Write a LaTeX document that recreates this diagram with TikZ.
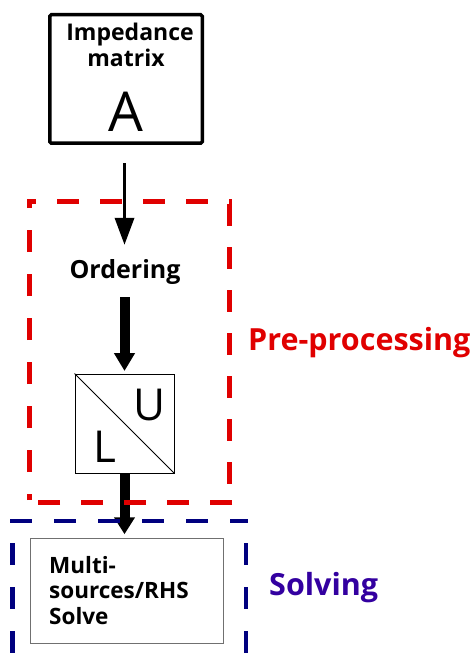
\documentclass[tikz,border=0pt]{standalone}
\usepackage{fontspec}
\setmainfont{Open Sans}
\usetikzlibrary{arrows.meta}
\definecolor{ppred}{HTML}{E00000}
\definecolor{navyd}{HTML}{00007F}
\definecolor{solvc}{HTML}{3300A0}
\definecolor{boxgray}{HTML}{707070}
\begin{document}
\begin{tikzpicture}[x=1pt,y=-1pt,
  lbl/.style={inner sep=0pt, font=\fontsize{23}{27}\selectfont\bfseries},
  ordlbl/.style={inner sep=0pt, font=\fontsize{25}{29}\selectfont\bfseries},
  sublbl/.style={inner sep=0pt, anchor=base west, font=\fontsize{22.5}{26}\selectfont\bfseries},
  big/.style={inner sep=0pt, font=\fontsize{55}{60}\selectfont},
  mid/.style={inner sep=0pt, font=\fontsize{44}{50}\selectfont},
  flow/.style={line width=3.5pt, -{Triangle[width=19pt,length=27pt]}},
  fatflow/.style={line width=10pt, -{Triangle[width=20pt,length=18pt]}},
  grp/.style={ppred, line width=5pt, dash pattern=on 22pt off 21pt},
  grpb/.style={navyd, line width=4.5pt, dash pattern=on 22pt off 22pt},
  side/.style={inner sep=0pt, anchor=base west, font=\fontsize{30.5}{34}\selectfont\bfseries}]
\useasboundingbox (0,0) rectangle (469,663);
% top box
\node[draw, line width=3.5pt, rounded corners=1.5pt, minimum width=152.5pt, minimum height=128.5pt, inner sep=0pt] (imp) at (126,79) {};
\node[lbl, anchor=base] (t1) at (130,41) {Impedance};
\node[lbl, anchor=base] (t2) at (126,67) {matrix};
\node[big, anchor=base] (ta) at (126,132) {A};
% ordering
\node[ordlbl, anchor=base] (ord) at (125,278) {Ordering};
% LU box
\node[draw, line width=1pt, minimum size=99pt, inner sep=0pt] (lu) at (124.5,423.5) {};
\draw[line width=0.8pt] (lu.north west) -- (lu.south east);
\node[mid] (tu) at (150,405) {U};
\node[mid] (tl) at (105,447) {L};
% solve box
\node[draw=boxgray, line width=1.5pt, minimum width=193pt, minimum height=105pt, inner sep=0pt] (slv) at (127,591) {};
\node[sublbl] (s1) at (49,573) {Multi-};
\node[sublbl] (s2) at (49,598) {sources/RHS};
\node[sublbl] (s3) at (49,624) {Solve};
% arrows
\draw[flow, shorten <=18.5pt, shorten >=14pt] (imp.south -| lu) -- (ord.north -| lu);
\draw[fatflow, shorten <=13pt, shorten >=2.5pt] (ord.south -| lu) -- (lu.north);
\draw[line width=10pt, -{Triangle[width=20pt,length=17pt]}, shorten >=3.5pt] (lu.south) -- (slv.north -| lu);
% pre-processing group
\coordinate (rtl) at (29.5,201.5);
\coordinate (rtr) at (229.5,201.5);
\coordinate (rbr) at (229.5,502.5);
\coordinate (rbl) at (29.5,502.5);
\draw[grp, dash phase=13pt] ([xshift=-2.5pt]rtl) -- ([xshift=2.5pt]rtr);
\draw[grp] ([yshift=-2.5pt]rtr) -- ([yshift=2.5pt]rbr);
\draw[grp] ([xshift=2.5pt]rbr) -- ([xshift=-2.5pt]rbl);
\draw[grp, dash pattern=on 22pt off 22pt, dash phase=16pt] ([yshift=2.5pt]rbl) -- ([yshift=-2.5pt]rtl);
% solving group
\coordinate (btl) at (12.25,521);
\coordinate (btr) at (245.75,521);
\coordinate (bbl) at (12.25,663);
\coordinate (bbr) at (245.75,663);
\draw[grpb] ([xshift=-2.25pt]btl) -- ([xshift=2.25pt]btr);
\draw[grpb, dash phase=22pt] (btl) -- (bbl);
\draw[grpb, dash phase=22pt] (btr) -- (bbr);
% side labels
\node[side, text=ppred] (pp) at (248,350) {Pre-processing};
\node[side, text=solvc] (sv) at (269,595) {Solving};
\end{tikzpicture}
\end{document}
